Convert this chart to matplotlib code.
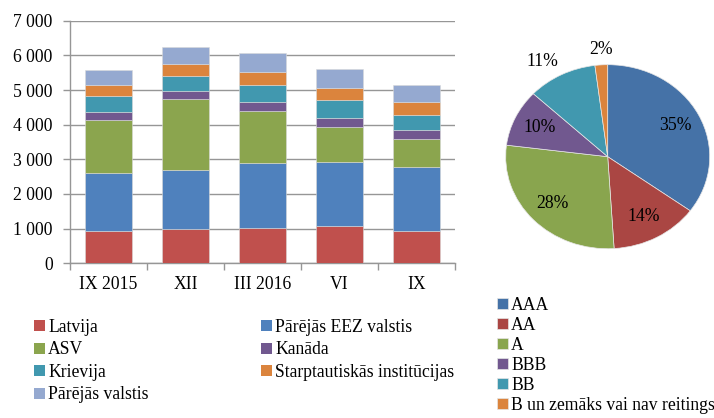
import matplotlib
matplotlib.use("Agg")
import matplotlib.pyplot as plt
from matplotlib.patches import Patch
import numpy as np

plt.rcParams['font.family'] = ['Liberation Serif', 'DejaVu Serif']

# bar chart data (milj. EUR)
periods = ["IX 2015", "XII", "III 2016", "VI", "IX"]
latvija = [940, 990, 1020, 1065, 940]
eez = [1675, 1710, 1885, 1870, 1830]
asv = [1520, 2030, 1490, 1010, 820]
kanada = [240, 240, 270, 260, 260]
krievija = [460, 435, 480, 520, 440]
starpt = [310, 335, 385, 345, 375]
parejas = [430, 490, 530, 540, 480]

bar_names = ["Latvija", "Pārējās EEZ valstis", "ASV", "Kanāda", "Krievija",
             "Starptautiskās institūcijas", "Pārējās valstis"]
bar_colors = ["#C0504D", "#4F81BD", "#8BA54E", "#71588F", "#4198AF",
              "#DB843D", "#95A9D0"]

# pie chart data (%)
ratings = ["AAA", "AA", "A", "BBB", "BB", "B un zemāks vai nav reitings"]
shares = [35, 14, 28, 10, 11, 2]
pie_colors = ["#4572A7", "#AA4643", "#89A54E", "#71588F", "#4198AF", "#DB843D"]

FS = 12.7
W, H = 714, 418
fig = plt.figure(figsize=(W / 100, H / 100), dpi=100)


def px_axes(x0, y0, x1, y1):
    return fig.add_axes([x0 / W, 1 - y1 / H, (x1 - x0) / W, (y1 - y0) / H])


# ---- stacked bars
ax = px_axes(70, 20.7, 455, 263.3)
series = [latvija, eez, asv, kanada, krievija, starpt, parejas]
x = np.arange(len(periods))
bottom = np.zeros(len(periods))
handles = []
for vals, name, col in zip(series, bar_names, bar_colors):
    ax.bar(x, vals, width=0.62, bottom=bottom, color=col,
           edgecolor="#d9d9d9", linewidth=0.4, zorder=3)
    bottom += np.array(vals)
    handles.append(Patch(facecolor=col, label=name))

ax.set_xlim(-0.5, len(periods) - 0.5)
ax.set_ylim(0, 7000)
ax.set_yticks(range(0, 7001, 1000))
ax.set_yticklabels([f"{v:,}".replace(",", " ") for v in range(0, 7001, 1000)])
ax.yaxis.grid(True, color="#969696", linewidth=1.0, zorder=0)
ax.set_xticks(np.arange(-0.5, len(periods)), labels=[""] * (len(periods) + 1))
ax.set_xticks(x, labels=periods, minor=True)
ax.tick_params(axis="x", which="major", length=5, color="#969696", width=1)
ax.tick_params(axis="x", which="minor", length=0, pad=9, labelsize=FS)
ax.tick_params(axis="y", length=5, color="#969696", width=1, pad=7.5, labelsize=FS)
for s in ["top", "right"]:
    ax.spines[s].set_visible(False)
for s in ["left", "bottom"]:
    ax.spines[s].set_color("#969696")
    ax.spines[s].set_linewidth(1)

order1 = [0, 2, 4, 6]
order2 = [1, 3, 5]
leg_kw = dict(frameon=False, fontsize=FS, handlelength=0.6, handleheight=0.6,
              handletextpad=0.2, labelspacing=0.31, borderaxespad=0, borderpad=0)
fig.legend([handles[i] for i in order1], [bar_names[i] for i in order1],
           loc="upper left", bbox_to_anchor=(34 / W, 1 - 319 / H), **leg_kw)
fig.legend([handles[i] for i in order2], [bar_names[i] for i in order2],
           loc="upper left", bbox_to_anchor=(261 / W, 1 - 319 / H), **leg_kw)

# ---- pie
pax = px_axes(505.7, 64.7, 709.7, 248.7)
wedges, texts, autotexts = pax.pie(
    shares, colors=pie_colors, startangle=90, counterclock=False,
    autopct="%d%%", pctdistance=0.74,
    wedgeprops=dict(edgecolor="#e6e6e6", linewidth=0.5),
    textprops=dict(fontsize=FS, color="black"))
pax.set_aspect("auto")
pax.set_xlim(-1, 1)
pax.set_ylim(-1, 1)
# small slices: labels outside the pie
for w, t, dist, ha in zip(wedges[4:], autotexts[4:], [1.06, 1.08], ["right", "center"]):
    ang = np.deg2rad((w.theta1 + w.theta2) / 2)
    t.set_position((dist * np.cos(ang), dist * np.sin(ang)))
    t.set_ha(ha)
    t.set_va("bottom")
    t.set_clip_on(False)

fig.legend(wedges, ratings, loc="upper left", bbox_to_anchor=(497 / W, 1 - 297 / H),
           frameon=False, fontsize=FS, handlelength=0.6, handleheight=0.6,
           handletextpad=0.2, labelspacing=0.17, borderaxespad=0, borderpad=0)

fig.savefig("out.png", dpi=100)
